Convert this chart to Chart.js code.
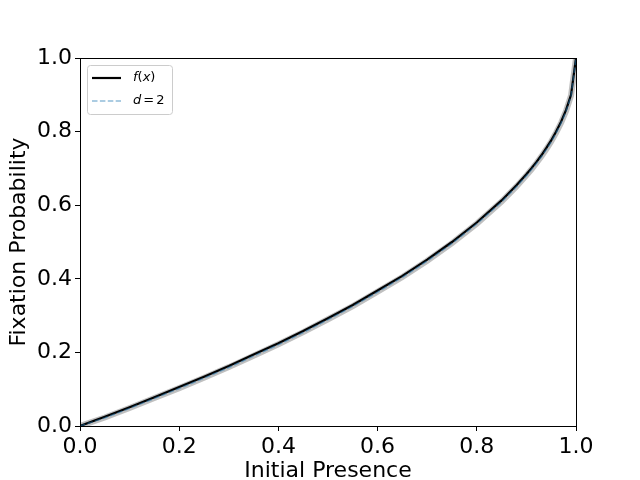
<!DOCTYPE html>
<html><head><meta charset="utf-8">
<script src="https://cdn.jsdelivr.net/npm/chart.js@4/dist/chart.umd.min.js"></script>
<style>html,body{margin:0;padding:0;background:#fff}#wrap{width:640px;height:480px}</style>
</head><body><div id="wrap"><canvas id="c" width="640" height="480"></canvas></div>
<script>
const xValues = [0, 0.05, 0.1, 0.15, 0.2, 0.25, 0.3, 0.35, 0.4, 0.45, 0.5, 0.55, 0.6, 0.65, 0.7, 0.75, 0.8, 0.85, 0.88, 0.9, 0.91, 0.92, 0.93, 0.94, 0.95, 0.96, 0.97, 0.98, 0.99, 1.0];
const fValues = [0, 0.025, 0.051, 0.078, 0.106, 0.134, 0.163, 0.194, 0.225, 0.258, 0.293, 0.329, 0.368, 0.408, 0.452, 0.5, 0.553, 0.613, 0.654, 0.684, 0.700, 0.717, 0.735, 0.755, 0.776, 0.800, 0.827, 0.859, 0.900, 1.0];
const d2Values = [0, 0.022, 0.048, 0.075, 0.102, 0.130, 0.159, 0.190, 0.221, 0.254, 0.289, 0.325, 0.364, 0.404, 0.448, 0.496, 0.549, 0.609, 0.650, 0.680, 0.696, 0.713, 0.731, 0.751, 0.772, 0.796, 0.823, 0.855, 0.897, 1.0];
const bandValues = [0, 0.023, 0.049, 0.076, 0.103, 0.131, 0.160, 0.191, 0.222, 0.255, 0.290, 0.326, 0.365, 0.405, 0.449, 0.497, 0.550, 0.610, 0.651, 0.681, 0.697, 0.714, 0.732, 0.752, 0.773, 0.797, 0.824, 0.856, 0.898, 1.0];
const xTicks = [0, 0.2, 0.4, 0.6, 0.8, 1.0];
const yTicks = [0, 0.2, 0.4, 0.6, 0.8, 1.0];

const pts = arr => xValues.map((x, i) => ({x: x, y: arr[i]}));
const FONT = "'DejaVu Sans', sans-serif";

const framePlugin = {
  id: 'frame',
  afterDraw(chart) {
    const {ctx, chartArea: a} = chart;
    ctx.save();
    ctx.strokeStyle = '#000'; ctx.lineWidth = 1;
    ctx.strokeRect(Math.round(a.left) + 0.5, Math.round(a.top) + 0.5, Math.round(a.right - a.left), Math.round(a.bottom - a.top));
    const lx = 87.5, ly = 65.5, lw = 85, lh = 49;
    ctx.fillStyle = 'rgba(255,255,255,0.8)';
    ctx.strokeStyle = '#cccccc';
    ctx.beginPath();
    if (ctx.roundRect) ctx.roundRect(lx, ly, lw, lh, 3); else ctx.rect(lx, ly, lw, lh);
    ctx.fill(); ctx.stroke();
    const ds = chart.data.datasets;
    ctx.setLineDash([]);
    ctx.strokeStyle = ds[1].borderColor; ctx.lineWidth = 2.2;
    ctx.beginPath(); ctx.moveTo(92, 78); ctx.lineTo(121, 78); ctx.stroke();
    ctx.strokeStyle = ds[2].borderColor; ctx.lineWidth = ds[2].borderWidth;
    ctx.setLineDash(ds[2].borderDash);
    ctx.beginPath(); ctx.moveTo(92, 101); ctx.lineTo(121, 101); ctx.stroke();
    ctx.setLineDash([]);
    ctx.fillStyle = '#000';
    ctx.textBaseline = 'middle'; ctx.textAlign = 'left';
    let x = 133;
    const part = (t, italic, y) => { ctx.font = (italic ? 'italic ' : '') + "13px " + FONT; ctx.fillText(t, x, y); x += ctx.measureText(t).width; };
    part('f', true, 78); part('(', false, 78); part('x', true, 78); part(')', false, 78);
    x = 133;
    part('d', true, 101); x += 2; part('=', false, 101); x += 2; part('2', false, 101);
    ctx.restore();
  }
};

new Chart(document.getElementById('c'), {
  type: 'line',
  data: {
    datasets: [
      { label: 'band', data: pts(bandValues), borderColor: 'rgba(150,150,150,0.6)', borderWidth: 6, pointRadius: 0, tension: 0, fill: false, order: 3 },
      { label: 'f(x)', data: pts(fValues), borderColor: '#000000', borderWidth: 2.2, pointRadius: 0, tension: 0, fill: false, order: 2 },
      { label: 'd = 2', data: pts(d2Values), borderColor: 'rgba(31,119,180,0.5)', borderWidth: 1.5, borderDash: [5.5, 2.4], pointRadius: 0, tension: 0, fill: false, order: 1 }
    ]
  },
  options: {
    responsive: false, animation: false,
    layout: { padding: { top: 58, right: 64, left: 0, bottom: 0 } },
    plugins: { legend: { display: false }, tooltip: { enabled: false } },
    scales: {
      x: {
        type: 'linear', min: 0, max: 1,
        afterFit(s) { s.height = 54; },
        afterBuildTicks(s) { s.ticks = xTicks.map(v => ({value: v})); },
        ticks: { color: '#000', font: { family: FONT, size: 22 }, padding: 3, maxRotation: 0, callback: v => v.toFixed(1) },
        grid: { display: true, drawOnChartArea: false, drawTicks: true, tickLength: 5, color: '#000' },
        border: { display: true, color: '#000' },
        title: { display: true, text: 'Initial Presence', color: '#000', font: { family: FONT, size: 22 }, padding: { top: 0, bottom: -4 } }
      },
      y: {
        type: 'linear', min: 0, max: 1,
        afterFit(s) { s.width = 80; },
        afterBuildTicks(s) { s.ticks = yTicks.map(v => ({value: v})); },
        ticks: { color: '#000', font: { family: FONT, size: 22 }, padding: 3, callback: v => v.toFixed(1) },
        grid: { display: true, drawOnChartArea: false, drawTicks: true, tickLength: 5, color: '#000' },
        border: { display: true, color: '#000' },
        title: { display: true, text: 'Fixation Probability', color: '#000', font: { family: FONT, size: 22 }, padding: { top: 6, bottom: 0 } }
      }
    }
  },
  plugins: [framePlugin]
});
</script></body></html>
